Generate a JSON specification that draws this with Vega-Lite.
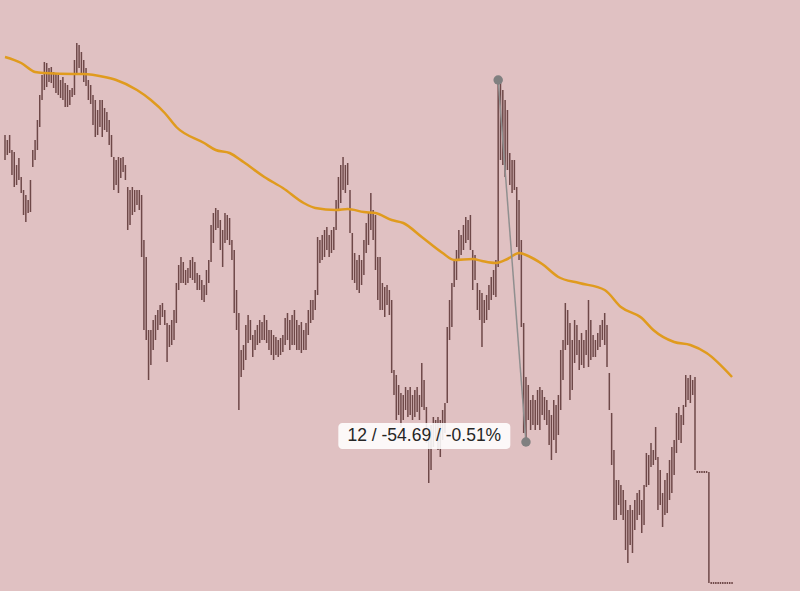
{
"$schema":"https://vega.github.io/schema/vega-lite/v6.json",
"width":800,"height":591,
"autosize":{"type":"fit","contains":"padding"},
"padding":0,
"background":"#e0c1c2",
"config":{"view":{"stroke":null},"axis":{"disable":true}},
"datasets":{
"bars":[
{"t":0,"h":10715.75,"l":10712},{"t":1,"h":10715,"l":10712.75},{"t":2,"h":10715.75,"l":10713.05},{"t":3,"h":10713.5,"l":10709.75},{"t":4,"h":10713.2,"l":10707.95},{"t":5,"h":10711.25,"l":10708.25},{"t":6,"h":10712.3,"l":10709},{"t":7,"h":10709.45,"l":10707.05},{"t":8,"h":10707.5,"l":10703.75},{"t":9,"h":10706.75,"l":10702.7},
{"t":10,"h":10706,"l":10704.05},{"t":11,"h":10709,"l":10704.2},{"t":12,"h":10713.5,"l":10710.95},{"t":13,"h":10715,"l":10712},{"t":14,"h":10718,"l":10713.5},{"t":15,"h":10721.75,"l":10716.95},{"t":16,"h":10724.75,"l":10721},{"t":17,"h":10726.7,"l":10722.5},{"t":18,"h":10726.55,"l":10722.95},{"t":19,"h":10725.8,"l":10723.7},
{"t":20,"h":10725.95,"l":10723.55},{"t":21,"h":10725.2,"l":10722.8},{"t":22,"h":10725.05,"l":10722.05},{"t":23,"h":10724.75,"l":10721.75},{"t":24,"h":10724,"l":10721.3},{"t":25,"h":10724.45,"l":10721},{"t":26,"h":10723.55,"l":10719.95},{"t":27,"h":10723.25,"l":10719.95},{"t":28,"h":10722.5,"l":10720.25},{"t":29,"h":10722.8,"l":10721.45},
{"t":30,"h":10727,"l":10721.75},{"t":31,"h":10729.55,"l":10724.75},{"t":32,"h":10729.25,"l":10725.8},{"t":33,"h":10728.2,"l":10724.75},{"t":34,"h":10727,"l":10723.7},{"t":35,"h":10725.8,"l":10723.1},{"t":36,"h":10724,"l":10721},{"t":37,"h":10723.25,"l":10720.4},{"t":38,"h":10721.75,"l":10717.25},{"t":39,"h":10721,"l":10715.45},
{"t":40,"h":10719.5,"l":10715.75},{"t":41,"h":10721,"l":10716.95},{"t":42,"h":10721,"l":10715.45},{"t":43,"h":10719.8,"l":10716.5},{"t":44,"h":10719.2,"l":10716.2},{"t":45,"h":10718,"l":10714.25},{"t":46,"h":10715.75,"l":10712.45},{"t":47,"h":10712.45,"l":10707.5},{"t":48,"h":10712,"l":10708.25},{"t":49,"h":10712.45,"l":10707.05},
{"t":50,"h":10712.3,"l":10709.3},{"t":51,"h":10712.45,"l":10710.2},{"t":52,"h":10711.25,"l":10709},{"t":53,"h":10707.95,"l":10701.5},{"t":54,"h":10707.5,"l":10702.25},{"t":55,"h":10707.95,"l":10703.75},{"t":56,"h":10707.5,"l":10704.2},{"t":57,"h":10707.5,"l":10705.25},{"t":58,"h":10707.5,"l":10704.5},{"t":59,"h":10706.75,"l":10697.45},
{"t":60,"h":10700,"l":10686.5},{"t":61,"h":10697.45,"l":10685},{"t":62,"h":10686.5,"l":10679},{"t":63,"h":10686.5,"l":10681.25},{"t":64,"h":10688,"l":10683.5},{"t":65,"h":10688.75,"l":10685},{"t":66,"h":10689.5,"l":10686.5},{"t":67,"h":10690.25,"l":10687.25},{"t":68,"h":10690.55,"l":10688.45},{"t":69,"h":10689.5,"l":10687.25},
{"t":70,"h":10687.55,"l":10681.7},{"t":71,"h":10687.25,"l":10683.95},{"t":72,"h":10688,"l":10684.25},{"t":73,"h":10689.5,"l":10685},{"t":74,"h":10693.55,"l":10687.55},{"t":75,"h":10696.25,"l":10692.5},{"t":76,"h":10697.45,"l":10693.55},{"t":77,"h":10696.7,"l":10693.55},{"t":78,"h":10695.5,"l":10693.25},{"t":79,"h":10695.8,"l":10693.55},
{"t":80,"h":10697,"l":10694.3},{"t":81,"h":10697.45,"l":10694},{"t":82,"h":10696.7,"l":10693.55},{"t":83,"h":10695.05,"l":10692.5},{"t":84,"h":10694.75,"l":10692.5},{"t":85,"h":10694,"l":10691},{"t":86,"h":10693.25,"l":10690.7},{"t":87,"h":10695.5,"l":10691.75},{"t":88,"h":10697,"l":10693.55},{"t":89,"h":10702.25,"l":10696.7},
{"t":90,"h":10704.05,"l":10699.55},{"t":91,"h":10704.8,"l":10701.5},{"t":92,"h":10704.5,"l":10701.8},{"t":93,"h":10703,"l":10698.5},{"t":94,"h":10701.5,"l":10695.95},{"t":95,"h":10704.05,"l":10699.55},{"t":96,"h":10703.75,"l":10700},{"t":97,"h":10703.3,"l":10699.25},{"t":98,"h":10700,"l":10697},{"t":99,"h":10698.5,"l":10689.05},
{"t":100,"h":10692.5,"l":10686.5},{"t":101,"h":10689.05,"l":10674.5},{"t":102,"h":10683.5,"l":10679.45},{"t":103,"h":10684.25,"l":10680.5},{"t":104,"h":10687.25,"l":10682},{"t":105,"h":10688.75,"l":10684.55},{"t":106,"h":10688,"l":10685},{"t":107,"h":10685.75,"l":10682.45},{"t":108,"h":10686.5,"l":10683.5},{"t":109,"h":10687.25,"l":10684.25},
{"t":110,"h":10688,"l":10684.55},{"t":111,"h":10687.7,"l":10685},{"t":112,"h":10688.75,"l":10685},{"t":113,"h":10688,"l":10684.55},{"t":114,"h":10686.5,"l":10683.5},{"t":115,"h":10686.5,"l":10682.75},{"t":116,"h":10685.75,"l":10682},{"t":117,"h":10685.45,"l":10682.75},{"t":118,"h":10685,"l":10682.45},{"t":119,"h":10685.3,"l":10682.75},
{"t":120,"h":10685.75,"l":10683.2},{"t":121,"h":10688.3,"l":10684.25},{"t":122,"h":10689.05,"l":10685},{"t":123,"h":10688,"l":10683.5},{"t":124,"h":10688.75,"l":10684.25},{"t":125,"h":10689.5,"l":10684.25},{"t":126,"h":10688,"l":10683.5},{"t":127,"h":10687.25,"l":10683.5},{"t":128,"h":10687.7,"l":10683.05},{"t":129,"h":10686.5,"l":10683.5},
{"t":130,"h":10687.55,"l":10683.5},{"t":131,"h":10689.5,"l":10685.75},{"t":132,"h":10691,"l":10687.55},{"t":133,"h":10691,"l":10688},{"t":134,"h":10692.5,"l":10689.5},{"t":135,"h":10700.45,"l":10691.75},{"t":136,"h":10700,"l":10696.55},{"t":137,"h":10700.75,"l":10697},{"t":138,"h":10701.5,"l":10697.45},{"t":139,"h":10701.95,"l":10698.5},
{"t":140,"h":10700.75,"l":10697.45},{"t":141,"h":10701.5,"l":10698.05},{"t":142,"h":10701.95,"l":10698.5},{"t":143,"h":10706,"l":10701.5},{"t":144,"h":10709.45,"l":10704.5},{"t":145,"h":10711.25,"l":10705.55},{"t":146,"h":10712.45,"l":10707.5},{"t":147,"h":10711.25,"l":10707.05},{"t":148,"h":10711.55,"l":10708.25},{"t":149,"h":10707.5,"l":10701.05},
{"t":150,"h":10701.05,"l":10694},{"t":151,"h":10698.05,"l":10693.55},{"t":152,"h":10697,"l":10692.5},{"t":153,"h":10697.75,"l":10692.05},{"t":154,"h":10697,"l":10693.25},{"t":155,"h":10700,"l":10694.75},{"t":156,"h":10702.55,"l":10698.05},{"t":157,"h":10704.05,"l":10699.25},{"t":158,"h":10707.05,"l":10701.5},{"t":159,"h":10704.5,"l":10700},
{"t":160,"h":10703.75,"l":10695.5},{"t":161,"h":10697.45,"l":10691},{"t":162,"h":10697.45,"l":10689.5},{"t":163,"h":10693.55,"l":10689.5},{"t":164,"h":10692.95,"l":10688.45},{"t":165,"h":10693.25,"l":10690.25},{"t":166,"h":10692.5,"l":10688.75},{"t":167,"h":10691,"l":10680.05},{"t":168,"h":10680.5,"l":10676.75},{"t":169,"h":10679.75,"l":10673},
{"t":170,"h":10678.25,"l":10673.75},{"t":171,"h":10677.05,"l":10671.95},{"t":172,"h":10676.75,"l":10673},{"t":173,"h":10677.95,"l":10674.5},{"t":174,"h":10677.5,"l":10673.45},{"t":175,"h":10677.95,"l":10673.75},{"t":176,"h":10676.75,"l":10673},{"t":177,"h":10677.5,"l":10673.45},{"t":178,"h":10677.95,"l":10674.2},{"t":179,"h":10676.75,"l":10673},
{"t":180,"h":10681.55,"l":10674.95},{"t":181,"h":10679,"l":10674.5},{"t":182,"h":10674.95,"l":10669.55},{"t":183,"h":10671.05,"l":10663.55},{"t":184,"h":10672.25,"l":10665.5},{"t":185,"h":10673.45,"l":10668.95},{"t":186,"h":10673,"l":10670},{"t":187,"h":10673.45,"l":10668.5},{"t":188,"h":10673,"l":10667.45},{"t":189,"h":10674.5,"l":10670},
{"t":190,"h":10675.55,"l":10671.05},{"t":191,"h":10686.95,"l":10675.55},{"t":192,"h":10691,"l":10685},{"t":193,"h":10693.55,"l":10686.95},{"t":194,"h":10697,"l":10692.95},{"t":195,"h":10698.5,"l":10694},{"t":196,"h":10701.5,"l":10697},{"t":197,"h":10700.75,"l":10697.75},{"t":198,"h":10702.25,"l":10698.5},{"t":199,"h":10703.45,"l":10699.55},
{"t":200,"h":10703,"l":10700},{"t":201,"h":10703.75,"l":10698.5},{"t":202,"h":10698.5,"l":10692.5},{"t":203,"h":10697.75,"l":10694},{"t":204,"h":10693.55,"l":10689.5},{"t":205,"h":10692.5,"l":10688},{"t":206,"h":10692.05,"l":10683.95},{"t":207,"h":10691,"l":10687.55},{"t":208,"h":10691.75,"l":10688},{"t":209,"h":10693.25,"l":10689.5},
{"t":210,"h":10694.45,"l":10691},{"t":211,"h":10695.5,"l":10691.75},{"t":212,"h":10697,"l":10691.45},{"t":213,"h":10724,"l":10695.95},{"t":214,"h":10723.7,"l":10712},{"t":215,"h":10722.5,"l":10711.25},{"t":216,"h":10721,"l":10709.45},{"t":217,"h":10719.5,"l":10710.5},{"t":218,"h":10713.05,"l":10708.25},{"t":219,"h":10712,"l":10707.05},
{"t":220,"h":10712,"l":10707.5},{"t":221,"h":10707.95,"l":10698.95},{"t":222,"h":10706,"l":10697},{"t":223,"h":10700,"l":10686.95},{"t":224,"h":10687.55,"l":10671.05},{"t":225,"h":10679.45,"l":10669.7},{"t":226,"h":10678.25,"l":10673},{"t":227,"h":10676,"l":10671.5},{"t":228,"h":10676.75,"l":10672.25},{"t":229,"h":10676,"l":10671.5},
{"t":230,"h":10677.5,"l":10672.25},{"t":231,"h":10677.95,"l":10671.5},{"t":232,"h":10677.5,"l":10673.75},{"t":233,"h":10676.45,"l":10673},{"t":234,"h":10676,"l":10672.25},{"t":235,"h":10674.5,"l":10669.25},{"t":236,"h":10673.75,"l":10667},{"t":237,"h":10676,"l":10670},{"t":238,"h":10675.25,"l":10668.05},{"t":239,"h":10676.75,"l":10670.75},
{"t":240,"h":10683.5,"l":10674.5},{"t":241,"h":10685,"l":10679},{"t":242,"h":10690.55,"l":10683.5},{"t":243,"h":10689.5,"l":10684.25},{"t":244,"h":10687.55,"l":10676},{"t":245,"h":10685,"l":10677.5},{"t":246,"h":10688,"l":10681.55},{"t":247,"h":10687.25,"l":10682.75},{"t":248,"h":10685,"l":10680.5},{"t":249,"h":10686.05,"l":10681.25},
{"t":250,"h":10685,"l":10680.8},{"t":251,"h":10686.5,"l":10682.75},{"t":252,"h":10691,"l":10680.95},{"t":253,"h":10688,"l":10682},{"t":254,"h":10685.75,"l":10682.45},{"t":255,"h":10685,"l":10682.45},{"t":256,"h":10686.05,"l":10683.5},{"t":257,"h":10687.25,"l":10683.95},{"t":258,"h":10688,"l":10685},{"t":259,"h":10689.05,"l":10684.25},
{"t":260,"h":10687.25,"l":10680.95},{"t":261,"h":10680.05,"l":10674.5},{"t":262,"h":10674.05,"l":10666.25},{"t":263,"h":10668.5,"l":10658},{"t":264,"h":10664,"l":10658},{"t":265,"h":10664,"l":10660.25},{"t":266,"h":10663.25,"l":10658.75},{"t":267,"h":10662.5,"l":10658},{"t":268,"h":10661,"l":10653.5},{"t":269,"h":10659.5,"l":10651.55},
{"t":270,"h":10660.25,"l":10654.25},{"t":271,"h":10659.5,"l":10653.05},{"t":272,"h":10661,"l":10656.5},{"t":273,"h":10662.05,"l":10658},{"t":274,"h":10662.5,"l":10658.75},{"t":275,"h":10661,"l":10656.05},{"t":276,"h":10663.25,"l":10657.25},{"t":277,"h":10668.05,"l":10662.95},{"t":278,"h":10667.75,"l":10663.25},{"t":279,"h":10669.55,"l":10665.95},
{"t":280,"h":10668.5,"l":10666.25},{"t":281,"h":10671.95,"l":10667},{"t":282,"h":10667.45,"l":10659.5},{"t":283,"h":10665.5,"l":10660.25},{"t":284,"h":10662.05,"l":10656.95},{"t":285,"h":10664,"l":10658.75},{"t":286,"h":10665.05,"l":10659.05},{"t":287,"h":10667,"l":10661},{"t":288,"h":10668.95,"l":10662.05},{"t":289,"h":10670,"l":10664.75},
{"t":290,"h":10674.05,"l":10668.05},{"t":291,"h":10674.95,"l":10670},{"t":292,"h":10673.75,"l":10669.55},{"t":293,"h":10675.25,"l":10672.25},{"t":294,"h":10679.75,"l":10674.95},{"t":295,"h":10679.3,"l":10676},{"t":296,"h":10679.75,"l":10675.55},{"t":297,"h":10679,"l":10676.75},{"t":298,"h":10679.45,"l":10665.5},{"t":299,"h":10665.35,"l":10665.05},
{"t":300,"h":10665.35,"l":10665.05},{"t":301,"h":10665.35,"l":10665.05},{"t":302,"h":10665.35,"l":10665.05},{"t":303,"h":10665.35,"l":10665.05},{"t":304,"h":10665.2,"l":10648.55},{"t":305,"h":10648.7,"l":10648.4},{"t":306,"h":10648.7,"l":10648.4},{"t":307,"h":10648.7,"l":10648.4},{"t":308,"h":10648.7,"l":10648.4},{"t":309,"h":10648.7,"l":10648.4},
{"t":310,"h":10648.7,"l":10648.4},{"t":311,"h":10648.7,"l":10648.4},{"t":312,"h":10648.7,"l":10648.4},{"t":313,"h":10648.7,"l":10648.4},{"t":314,"h":10648.7,"l":10648.4}
],
"ma":[
{"t":0,"v":10727.45},{"t":7,"v":10726.55},{"t":13,"v":10725.2},{"t":17,"v":10725.05},{"t":30,"v":10724.9},{"t":34,"v":10724.9},{"t":43,"v":10724.45},{"t":48,"v":10724},{"t":57,"v":10722.5},{"t":63,"v":10721},{"t":69,"v":10719.05},{"t":74,"v":10716.95},{"t":86,"v":10714.55},{"t":91,"v":10713.5},{"t":97,"v":10713.05},{"t":103,"v":10711.7},{"t":112,"v":10709.45},{"t":120,"v":10707.8},{"t":129,"v":10705.55},{"t":134,"v":10704.8},{"t":143,"v":10704.5},{"t":148,"v":10704.65},{"t":155,"v":10704.2},{"t":160,"v":10704.05},{"t":167,"v":10703},{"t":172,"v":10702.55},{"t":180,"v":10700.45},{"t":189,"v":10698.05},{"t":194,"v":10697},{"t":202,"v":10697.15},{"t":206,"v":10696.85},{"t":212,"v":10696.55},{"t":217,"v":10697.15},{"t":222,"v":10698.05},{"t":226,"v":10697.6},{"t":232,"v":10696.4},{"t":239,"v":10694.45},{"t":248,"v":10693.55},{"t":259,"v":10692.5},{"t":266,"v":10689.95},{"t":275,"v":10688.3},{"t":280,"v":10686.5},{"t":289,"v":10684.7},{"t":296,"v":10684.25},{"t":303,"v":10683.05},{"t":314,"v":10679.45}
],
"measure":[{"t":213,"p":10724},{"t":225,"p":10669.7}],
"label":[{"t":181.1,"p":10670.6,"text":"12 / -54.69 / -0.51%"}]
},
"layer":[
{"data":{"name":"bars"},"mark":{"type":"rule","color":"#6e4848","strokeWidth":1.5},
 "encoding":{"x":{"field":"t","type":"quantitative","scale":{"domain":[0,343.35],"nice":false,"zero":false}},
 "y":{"field":"h","type":"quantitative","scale":{"domain":[10647.35,10736],"nice":false,"zero":false}},"y2":{"field":"l"}}},
{"data":{"name":"ma"},"mark":{"type":"line","color":"#e09b1e","strokeWidth":2.5,"interpolate":"monotone"},
 "encoding":{"x":{"field":"t","type":"quantitative"},"y":{"field":"v","type":"quantitative"}}},
{"data":{"name":"measure"},"mark":{"type":"line","color":"#8f8f8f","strokeWidth":1.5},
 "encoding":{"x":{"field":"t","type":"quantitative"},"y":{"field":"p","type":"quantitative"}}},
{"data":{"name":"measure"},"mark":{"type":"point","filled":true,"color":"#808080","opacity":1,"size":90},
 "encoding":{"x":{"field":"t","type":"quantitative"},"y":{"field":"p","type":"quantitative"}}},
{"data":{"name":"label"},"mark":{"type":"rect","color":"#ffffff","opacity":0.88,"cornerRadius":4,"xOffset":-86,"x2Offset":86,"yOffset":-13,"y2Offset":13},
 "encoding":{"x":{"field":"t","type":"quantitative"},"x2":{"field":"t"},"y":{"field":"p","type":"quantitative"},"y2":{"field":"p"}}},
{"data":{"name":"label"},"mark":{"type":"text","font":"Liberation Sans","fontSize":17.5,"color":"#262626","align":"center","baseline":"middle"},
 "encoding":{"x":{"field":"t","type":"quantitative"},"y":{"field":"p","type":"quantitative"},"text":{"field":"text"}}}
]
}
